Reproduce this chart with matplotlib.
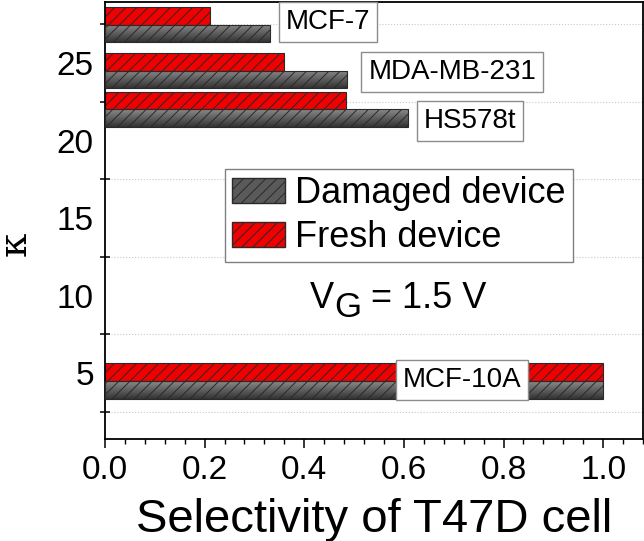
import numpy as np
import matplotlib
matplotlib.use('Agg')
import matplotlib.pyplot as plt
import matplotlib.patches as mpatches
from matplotlib.colors import LinearSegmentedColormap

plt.rcParams['font.family'] = ['Liberation Sans', 'DejaVu Sans']
plt.rcParams['mathtext.fontset'] = 'custom'
plt.rcParams['mathtext.rm'] = 'DejaVu Serif'
plt.rcParams['hatch.linewidth'] = 0.7

# data
cells = ['MCF-10A', 'HS578t', 'MDA-MB-231', 'MCF-7']
kappa = [4.5, 22.0, 24.5, 27.45]
fresh = [1.0, 0.483, 0.359, 0.21]
damaged = [1.0, 0.609, 0.486, 0.331]

y_labels = [5, 10, 15, 20, 25]
y_marks = [2.5, 7.5, 12.5, 17.5, 22.5, 27.5]

# where the cell name boxes sit (data coords)
label_xy = [(0.717, 4.56), (0.733, 21.26), (0.697, 24.42), (0.448, 27.64)]

fig = plt.figure(figsize=(6.44, 5.41), dpi=100)
ax = fig.add_axes([0.163, 0.1885, 0.8355, 0.807])

h = 1.13
ax.barh(kappa, fresh, height=h, align='edge', color='#f00000',
        edgecolor='#2a2a2a', hatch='///', lw=0.8, zorder=2)

# gray bars with a vertical gradient, hatch drawn on top
gray_cmap = LinearSegmentedColormap.from_list('g', ['#333333', '#8a8a8a'])
grad = np.linspace(0, 1, 64).reshape(-1, 1)
dbars = ax.barh(kappa, damaged, height=-h, align='edge', facecolor='none',
                edgecolor='#2a2a2a', hatch='///', lw=0.8, zorder=3)
for p in dbars.patches:
    x0, y0 = p.get_x(), p.get_y()
    w, hh = p.get_width(), p.get_height()
    im = ax.imshow(grad, extent=[x0, x0 + w, min(y0, y0 + hh), max(y0, y0 + hh)],
                   origin='lower', cmap=gray_cmap, aspect='auto', zorder=1.5)
    im.set_clip_path(p)

for name, (lx, ly) in zip(cells, label_xy):
    ax.text(lx, ly, name, fontsize=20, ha='center', va='center', zorder=5,
            bbox=dict(boxstyle='square,pad=0.25', fc='white', ec='#8c8c8c', lw=1))

ax.set_xlim(0, 1.08)
ax.set_ylim(0.76, 28.9)

ax.set_xticks(np.arange(0, 1.01, 0.2))
ax.set_xticks(np.arange(0, 1.081, 0.04), minor=True)
ax.xaxis.set_major_formatter(matplotlib.ticker.FormatStrFormatter('%.1f'))
ax.set_yticks(y_labels)
ax.set_yticks(y_marks, minor=True)

ax.tick_params(axis='x', which='major', direction='out', length=6.5, width=1.1,
               labelsize=24, pad=5)
ax.tick_params(axis='x', which='minor', direction='out', length=3.6, width=1.0)
ax.tick_params(axis='y', which='major', length=0, labelsize=24, pad=8)
ax.tick_params(axis='y', which='minor', direction='inout', length=6.5, width=1.1)

ax.grid(which='minor', axis='y', linestyle=':', color='#c8c8c8', lw=0.8)
ax.set_axisbelow(True)
for s in ax.spines.values():
    s.set_linewidth(1.3)

handles = [mpatches.Patch(facecolor='#5a5a5a', edgecolor='#2a2a2a', hatch='///',
                          label='Damaged device'),
           mpatches.Patch(facecolor='#f00000', edgecolor='#2a2a2a', hatch='///',
                          label='Fresh device')]
leg = ax.legend(handles=handles, loc='upper left', bbox_to_anchor=(0.223, 0.6186),
                borderaxespad=0, fontsize=26, handlelength=1.45, handleheight=0.7,
                handletextpad=0.3, borderpad=0.2, labelspacing=0.25,
                fancybox=False, framealpha=1, edgecolor='#808080')
leg.get_frame().set_linewidth(1)

# V_G = 1.5 V with a full-size, lowered G
t1 = ax.text(0.381, 0.300, 'V', transform=ax.transAxes, ha='left',
             va='baseline', fontsize=26)
t2 = ax.annotate('G', xy=(1, 0), xycoords=t1, xytext=(0, -5.5),
                 textcoords='offset points', ha='left', va='bottom', fontsize=25)
t3 = ax.annotate(' = 1.5 V', xy=(1, 0), xycoords=t2, xytext=(0, 5.5),
                 textcoords='offset points', ha='left', va='bottom', fontsize=26)

fig.text(0.026, 0.547, r'$\mathrm{κ}$', rotation=90, fontsize=28,
         ha='center', va='center')
fig.text(0.5807, 0.0388, 'Selectivity of T47D cell', fontsize=34,
         ha='center', va='center')

fig.savefig('out.png', dpi=100)
